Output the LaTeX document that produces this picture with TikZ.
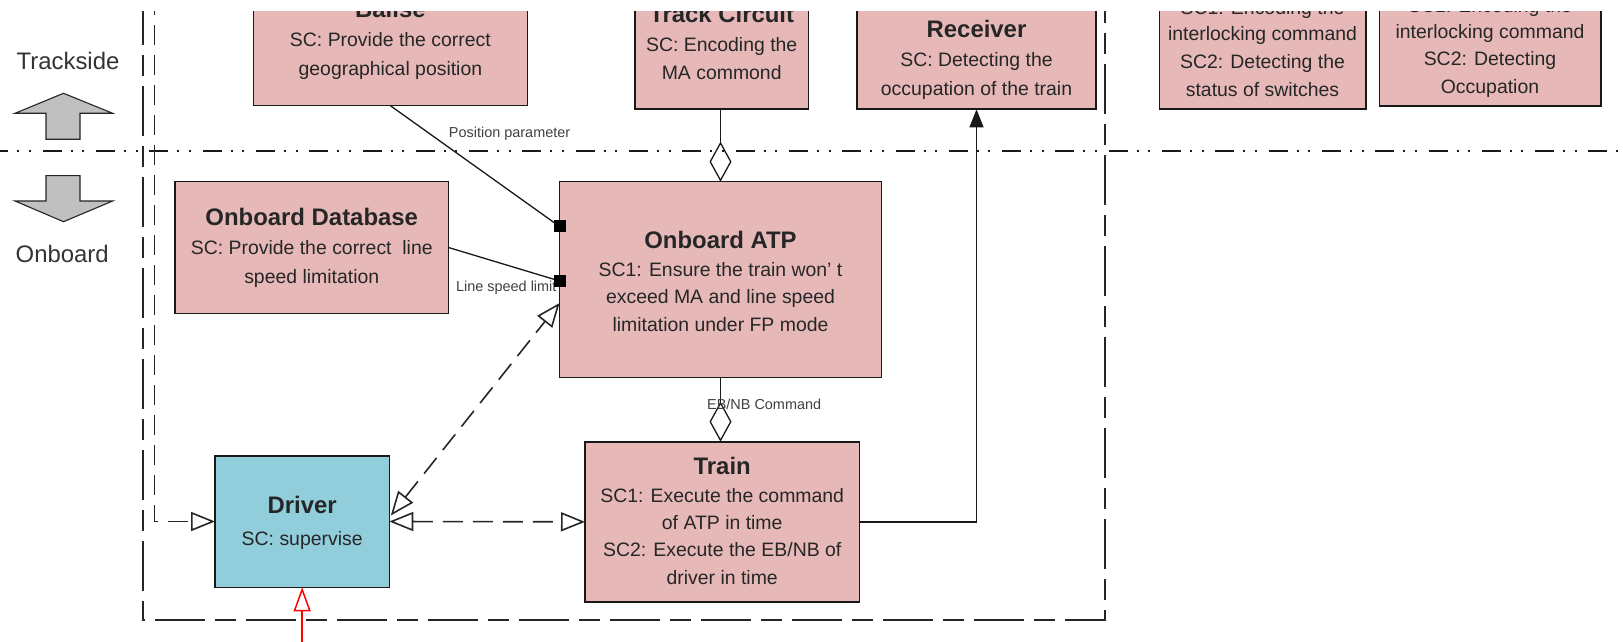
\documentclass[tikz,border=0pt]{standalone}
\usepackage{fontspec}
\setmainfont{Liberation Sans}
\usetikzlibrary{arrows.meta,calc}

\definecolor{boxpink}{HTML}{E6B9B8}
\definecolor{driverblue}{HTML}{92CDDC}
\definecolor{arrowgray}{HTML}{C0C0C0}
\definecolor{textdark}{HTML}{262626}
\definecolor{labelgray}{HTML}{404040}

\newcommand{\boxtitle}[1]{{\fontsize{24}{29}\selectfont\bfseries #1}}

\tikzset{
  pinkbox/.style={draw=black!90, line width=1.6bp, fill=boxpink, inner sep=0pt, outer sep=0pt},
  bluebox/.style={pinkbox, fill=driverblue},
  boxtext/.style={align=center, inner sep=0pt, text=textdark, font=\fontsize{19.5}{29}\selectfont},
  lbl/.style={inner sep=0pt, text=labelgray, font=\fontsize{14.5}{17}\selectfont},
  sidetext/.style={inner sep=0pt, text=black!80, font=\fontsize{24}{28}\selectfont},
  port/.style={fill=black, inner sep=0pt, outer sep=0pt, minimum size=12bp},
  conn/.style={line width=1.3bp, draw=black!90},
  dashconn/.style={line width=1.6bp, draw=black!85, dash pattern=on 20bp off 10bp},
  zonesep/.style={line width=2bp, draw=black!90, dash pattern=on 19bp off 9bp on 2bp off 9.6bp on 2bp off 11.7bp, dash phase=10.6bp},
  zoneframe/.style={line width=2.2bp, draw=black!85, dash pattern=on 50bp off 10bp on 21bp off 10bp},
  blockarrow/.style={fill=arrowgray, draw=black!85, line width=1.1bp},
  opentip/.tip={Triangle[open, length=24bp, width=19bp]},
  aggtip/.tip={Diamond[open, length=40bp, width=22bp]},
  filltip/.tip={Triangle[length=18bp, width=14bp]}
}

\begin{document}
\begin{tikzpicture}[x=1bp,y=-1bp]
\useasboundingbox (0,0) rectangle (1623,642);
\clip (0,12) rectangle (1623,642);

% zone labels and block arrows
\node[sidetext] (trackside) at (68,61) {Trackside};
\node[sidetext] (onboard) at (62.2,254) {Onboard};
\draw[blockarrow] (63.5,93.3) -- (112.7,113.3) -- (80,113.3) -- (80,139.3)
  -- (46,139.3) -- (46,113.3) -- (15,113.3) -- cycle;
\draw[blockarrow] (46,175.7) -- (80,175.7) -- (80,201) -- (112.7,201)
  -- (63.5,221.7) -- (15,201) -- (46,201) -- cycle;

% trackside / onboard separation and onboard frame
\draw[zonesep] (0,151.5) -- (1623,151.5);
\draw[zoneframe] (143.3,-5) -- (143.3,620) -- (1105,620) -- (1105,-5);

% trackside equipment
\node[pinkbox, minimum width=274.1bp, minimum height=132.4bp] (balise) at (390.4,39.5) {};
\node[boxtext] (balise-t) at (390.4,40) {\boxtitle{Balise}\\SC: Provide the correct\\geographical position};

\node[pinkbox, minimum width=173.3bp, minimum height=132.6bp] (trackc) at (721.7,43) {};
\node[boxtext] (trackc-t) at (721.7,42.5) {\boxtitle{Track Circuit}\\SC: Encoding the\\MA commond};

\node[pinkbox, minimum width=239bp, minimum height=101.3bp] (receiver) at (976.5,58.65) {};
\node[boxtext] (receiver-t) at (976.5,60) {\boxtitle{Receiver}\\SC: Detecting the\\occupation of the train};

\node[pinkbox, minimum width=206.4bp, minimum height=159.3bp] (ilk1) at (1262.5,29.65) {};
\node[boxtext, font=\fontsize{19.5}{28}\selectfont] (ilk1-t) at (1262.5,48.5) {SC1: Encoding the\\[-2bp]interlocking command\\SC2: Detecting the\\status of switches};

\node[pinkbox, minimum width=221.4bp, minimum height=156bp] (ilk2) at (1490,28) {};
\node[boxtext, font=\fontsize{19.5}{28}\selectfont] (ilk2-t) at (1490,48) {SC1: Encoding the\\[-2bp]interlocking command\\SC2: Detecting\\Occupation};

% onboard equipment
\node[pinkbox, minimum width=273.5bp, minimum height=131.6bp] (obdb) at (311.75,247.5) {};
\node[boxtext] (obdb-t) at (311.75,248) {\boxtitle{Onboard Database}\\SC: Provide the correct\ \ line\\speed limitation};

\node[pinkbox, minimum width=321.8bp, minimum height=195.6bp] (atp) at (720.5,279.5) {};
\node[boxtext, font=\fontsize{19.5}{27.5}\selectfont] (atp-t) at (720.5,281.5) {\boxtitle{Onboard ATP}\\SC1: Ensure the train won’\ t\\exceed MA and line speed\\limitation under FP mode};

\node[pinkbox, minimum width=274.3bp, minimum height=160.3bp] (train) at (722.15,521.85) {};
\node[boxtext, font=\fontsize{19.5}{27.5}\selectfont] (train-t) at (722.2,521) {\boxtitle{Train}\\SC1: Execute the command\\of ATP in time\\SC2: Execute the EB/NB of\\driver in time};

\node[bluebox, minimum width=174.3bp, minimum height=131.6bp] (driver) at (302.15,521.5) {};
\node[boxtext, font=\fontsize{19.5}{32}\selectfont] (driver-t) at (302.2,523) {\boxtitle{Driver}\\SC: supervise};

% ports on the left side of the ATP
\coordinate (atp-p1) at ($(atp.north west)+(0,44.8)$);
\coordinate (atp-p2) at ($(atp.north west)+(0,99.3)$);
\coordinate (atp-p3) at ($(atp.north west)+(0,121.3)$);
\coordinate (drv-p) at ($(driver.east)+(1.5,-6)$);
\coordinate (obs-top) at (154.3,-5);
\coordinate (red-src) at (302.15,660);

% connectors
\draw[conn] (balise.south) -- (atp-p1)
  node[lbl, pos=0.23, anchor=west, xshift=19bp] (lbl-pos) {Position parameter};
\draw[conn] (obdb.east) -- (atp-p2)
  node[lbl, pos=1, anchor=east, xshift=-2.5bp, yshift=-7bp] (lbl-lsl) {Line speed limit};
\node[port] (sq1) at (atp-p1) {};
\node[port] (sq2) at (atp-p2) {};

\draw[conn, -aggtip] (trackc.south -| atp.north) -- (atp.north);
\draw[conn, -aggtip] (atp.south) -- (atp.south |- train.north)
  node[lbl, pos=0.415, anchor=west, xshift=-14bp] (lbl-ebnb) {EB/NB Command};
\draw[conn, -filltip] (train.east) -| (receiver.south);

\draw[dashconn, opentip-opentip] (drv-p) -- (atp-p3);
\draw[dashconn, opentip-opentip] (driver.east) -- (train.west);
\draw[dashconn, -opentip] (obs-top) |- (driver.west);
\draw[line width=1.5bp, draw=red, -{Triangle[open, length=24bp, width=17bp]}] (red-src) -- (driver.south);
\end{tikzpicture}
\end{document}
